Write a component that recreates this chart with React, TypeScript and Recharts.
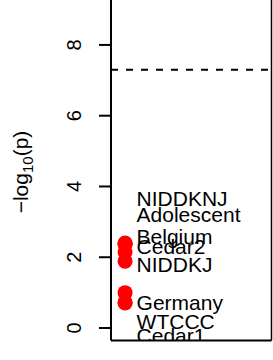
import React from 'react';
import { ScatterChart, Scatter, XAxis, YAxis, ReferenceLine } from 'recharts';

// studies in one column, -log10(p) per study
const studies = ['NIDDKNJ', 'Adolescent', 'Belgium', 'Cedar2', 'NIDDKJ', 'Germany', 'WTCCC', 'Cedar1'];
const logP = [2.4, 2.38, 2.36, 2.15, 1.89, 1.0, 0.73, 0.71];
// label heights after spreading so the names do not collide
const labelY = [3.65, 3.22, 2.6, 2.29, 1.79, 0.73, 0.18, -0.2];
const yTicks = [0, 2, 4, 6, 8];
const gwsLine = 7.3;

const column = 1;
const xDomain: [number, number] = [0.5, 6.2];
const yDomain: [number, number] = [-0.353, 9.27];

const FONT = '"Liberation Sans", Arial, sans-serif';

const points = studies.map((s, i) => ({ study: s, x: column, y: logP[i] }));
const labels = studies.map((s, i) => ({ study: s, x: column, y: labelY[i] }));

function Dot(props: any) {
  return <circle cx={props.cx} cy={props.cy} r={7.5} fill="#FF0000" />;
}

function StudyLabel(props: any) {
  return (
    <text x={props.cx + 11.5} y={props.cy + 7.5} fontSize={21} fontFamily={FONT} fill="#000">
      {props.payload.study}
    </text>
  );
}

function RotTick(props: any) {
  const { y, payload } = props;
  const bx = 81;
  return (
    <text
      x={bx}
      y={y}
      transform={`rotate(-90 ${bx} ${y})`}
      textAnchor="middle"
      fontSize={20}
      fontFamily={FONT}
      fill="#000"
    >
      {payload.value}
    </text>
  );
}

function AxisTitle() {
  const bx = 28.3;
  const cy = 172;
  return (
    <text
      x={bx}
      y={cy}
      transform={`rotate(-90 ${bx} ${cy})`}
      textAnchor="middle"
      fontSize={21}
      fontFamily={FONT}
      fill="#000"
    >
      −log
      <tspan fontSize={15} dy={5}>10</tspan>
      <tspan dy={-5}>(p)</tspan>
    </text>
  );
}

export default function App() {
  return (
    <div style={{ position: 'absolute', left: 0, top: 0, background: '#fff' }}>
      <ScatterChart width={273} height={360} margin={{ top: 0, right: 1.5, bottom: 19.5, left: 0 }}>
        <XAxis type="number" dataKey="x" domain={xDomain} hide allowDataOverflow />
        <YAxis
          type="number"
          dataKey="y"
          domain={yDomain}
          ticks={yTicks}
          allowDataOverflow
          width={111}
          tickSize={12}
          tick={<RotTick />}
          axisLine={{ stroke: '#000', strokeWidth: 2 }}
          tickLine={{ stroke: '#000', strokeWidth: 2 }}
          label={{ content: () => <AxisTitle /> }}
        />
        {/* plot box: bottom and right edges (top is outside the picture) */}
        <ReferenceLine y={yDomain[0]} stroke="#000" strokeWidth={2} />
        <ReferenceLine x={xDomain[1]} stroke="#000" strokeWidth={1.5} />
        <ReferenceLine y={gwsLine} stroke="#000" strokeWidth={2} strokeDasharray="7 8" />
        <Scatter data={points} shape={<Dot />} isAnimationActive={false} />
        <Scatter data={labels} shape={<StudyLabel />} isAnimationActive={false} />
      </ScatterChart>
    </div>
  );
}
